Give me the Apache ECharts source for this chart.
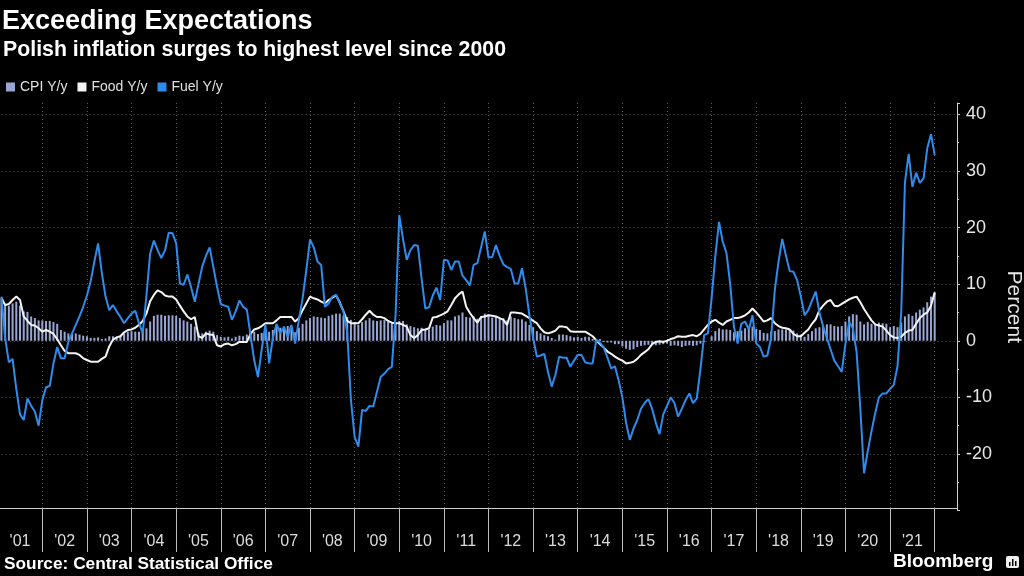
<!DOCTYPE html>
<html lang="en">
<head>
<meta charset="UTF-8">
<title>Exceeding Expectations</title>
<style>
    html, body {
        margin: 0;
        padding: 0;
        background: #000;
    }
    #chart {
        width: 1024px;
        height: 576px;
    }
</style>
</head>
<body>
<div id="chart"></div>
<script src="https://cdn.jsdelivr.net/npm/echarts@6/dist/echarts.min.js"></script>
<script>
    // monthly, Jan 2001 .. Dec 2021
    var cpi = [
        7.4, 6.6, 6.2, 6.6, 6.9, 6.2, 5.2, 5.1, 4.3, 4.0, 3.6, 3.6,
        3.5, 3.5, 3.3, 3.0, 1.9, 1.6, 1.3, 1.2, 1.3, 1.1, 0.9, 0.8,
        0.5, 0.5, 0.6, 0.3, 0.4, 0.8, 0.8, 0.7, 0.9, 1.3, 1.6, 1.7,
        1.6, 1.6, 1.7, 2.2, 3.4, 4.4, 4.6, 4.6, 4.4, 4.5, 4.5, 4.4,
        4.0, 3.6, 3.4, 3.0, 2.5, 1.4, 1.3, 1.6, 1.8, 1.6, 1.0, 0.7,
        0.6, 0.7, 0.4, 0.7, 0.9, 0.8, 1.1, 1.6, 1.6, 1.2, 1.4, 1.4,
        1.6, 1.9, 2.5, 2.3, 2.3, 2.6, 2.3, 1.5, 2.3, 3.0, 3.6, 4.0,
        4.3, 4.2, 4.1, 4.0, 4.4, 4.6, 4.8, 4.8, 4.5, 4.2, 3.7, 3.3,
        2.8, 3.3, 3.6, 4.0, 3.6, 3.5, 3.6, 3.7, 3.4, 3.1, 3.3, 3.5,
        3.5, 2.9, 2.6, 2.4, 2.2, 2.3, 2.0, 2.0, 2.5, 2.8, 2.7, 3.1,
        3.6, 3.6, 4.3, 4.5, 5.0, 4.2, 4.1, 4.3, 3.9, 4.3, 4.8, 4.6,
        4.1, 4.3, 3.9, 4.0, 3.6, 4.3, 4.0, 3.8, 3.8, 3.4, 2.8, 2.4,
        1.7, 1.3, 1.0, 0.8, 0.5, 0.2, 1.1, 1.1, 1.0, 0.8, 0.6, 0.7,
        0.5, 0.7, 0.7, 0.3, 0.2, 0.3, -0.2, -0.3, -0.3, -0.6, -0.6, -1.0,
        -1.4, -1.6, -1.5, -1.1, -0.9, -0.8, -0.7, -0.6, -0.8, -0.7, -0.6, -0.5,
        -0.9, -0.8, -0.9, -1.1, -0.9, -0.8, -0.9, -0.8, -0.5, -0.2, 0.0, 0.8,
        1.7, 2.2, 2.0, 2.0, 1.9, 1.5, 1.7, 1.8, 2.2, 2.1, 2.5, 2.1,
        1.9, 1.4, 1.3, 1.6, 1.7, 2.0, 2.0, 2.0, 1.9, 1.8, 1.3, 1.1,
        0.7, 1.2, 1.7, 2.2, 2.4, 2.6, 2.9, 2.9, 2.6, 2.5, 2.6, 3.4,
        4.3, 4.7, 4.6, 3.4, 2.9, 3.3, 3.0, 2.9, 3.2, 3.1, 3.0, 2.4,
        2.6, 2.4, 3.2, 4.3, 4.7, 4.4, 5.0, 5.5, 5.9, 6.8, 7.8, 8.6
    ];
    var food = [
        7.6, 6.3, 6.5, 7.2, 7.8, 7.2, 4.3, 3.5, 2.8, 2.7, 2.2, 1.6,
        1.9, 1.6, 1.2, 0.3, -0.8, -1.8, -2.2, -2.2, -2.2, -2.5, -3.1, -3.4,
        -3.7, -3.7, -3.7, -3.2, -2.8, -1.0, 0.2, 0.6, 0.8, 1.5, 1.9, 2.0,
        2.3, 2.8, 3.5, 4.8, 7.0, 8.1, 8.9, 8.6, 8.0, 7.8, 7.8, 7.3,
        6.2, 5.2, 4.3, 3.8, 4.2, 0.8, 0.5, 1.3, 1.1, 1.0, -0.8, -1.0,
        -0.6, -0.5, -0.8, -0.6, -0.2, -0.2, -0.2, 1.2, 2.0, 2.2, 2.6, 3.1,
        3.1, 3.1, 3.6, 4.2, 4.2, 4.2, 4.2, 3.4, 4.0, 5.4, 6.6, 7.8,
        7.5, 7.3, 6.9, 6.6, 7.2, 7.6, 8.0, 6.8, 5.2, 3.5, 3.1, 3.1,
        3.1, 3.8, 4.6, 5.3, 4.6, 4.2, 4.2, 4.0, 3.5, 3.2, 3.1, 3.1,
        2.8, 2.5, 1.0, 0.5, 1.0, 1.9, 2.0, 2.2, 4.1, 4.2, 4.5, 4.8,
        5.2, 6.3, 7.5, 8.2, 8.7, 6.0, 4.9, 4.0, 3.2, 4.2, 4.3, 4.5,
        4.4, 4.3, 4.0, 3.7, 2.8, 5.0, 5.0, 4.9, 4.8, 4.4, 4.0, 3.5,
        3.1, 2.2, 1.5, 1.3, 1.5, 1.8, 2.5, 2.5, 2.4, 1.7, 1.6, 1.6,
        1.6, 1.6, 1.2, 0.8, 0.1, -0.6, -1.2, -1.9, -2.3, -2.8, -3.2, -3.5,
        -4.0, -3.9, -3.7, -3.2, -2.5, -2.0, -1.5, -0.6, -0.2, -0.1, -0.2, 0.0,
        0.3, 0.5, 0.8, 0.7, 0.7, 0.9, 1.0, 0.8, 1.2, 2.0, 2.8, 3.4,
        3.7, 3.2, 2.8, 3.4, 3.7, 4.0, 4.0, 4.2, 4.5, 5.0, 5.7, 5.0,
        4.2, 3.4, 3.6, 4.0, 3.1, 2.6, 2.3, 2.2, 2.0, 1.2, 0.8, 0.8,
        1.4, 2.0, 3.0, 3.8, 5.4, 6.2, 6.9, 7.2, 6.2, 6.1, 6.5, 6.9,
        7.3, 7.6, 7.8, 6.8, 5.6, 4.6, 3.6, 2.9, 2.7, 2.5, 1.8, 1.0,
        0.6, 0.5, 0.7, 1.4, 1.8, 1.9, 3.0, 4.0, 4.6, 5.0, 6.2, 8.5
    ];
    var fuel = [
        7.8, 0.5, -3.8, -3.2, -8.5, -13.0, -14.0, -10.2, -11.5, -12.5, -15.0, -10.5,
        -8.2, -8.0, -4.0, -1.1, -3.1, -3.1, -0.2, 1.3, 2.8, 4.3, 6.0, 8.0,
        10.5, 14.0, 17.2, 12.0, 7.8, 5.4, 6.3, 5.2, 4.2, 3.1, 4.0, 4.8,
        5.3, 3.1, 1.3, 8.0, 15.4, 17.7, 16.0, 14.6, 16.0, 19.1, 19.0, 17.2,
        10.1, 9.9, 11.7, 9.5, 6.9, 10.0, 13.1, 15.0, 16.5, 13.0, 9.5, 6.5,
        6.2, 6.0, 3.7, 5.2, 7.1, 6.0, 5.5, 1.0, -3.5, -6.4, -1.5, 2.8,
        -4.0, 0.5, 3.0, 1.3, 2.5, 0.7, 2.8, -0.5, 3.7, 7.5, 12.5, 17.9,
        16.5, 14.0, 13.4, 6.0, 6.6, 7.8, 8.1, 6.6, 5.1, 1.5, -10.5, -17.0,
        -18.7, -12.2, -12.4, -11.5, -11.6, -9.0, -6.4, -5.8, -5.0, -4.6, 4.5, 22.2,
        18.0, 14.3, 16.0, 16.9, 16.8, 11.0, 5.7, 5.9, 8.0, 9.4, 7.2, 14.3,
        14.2, 12.5, 14.0, 14.0, 11.5, 10.7, 9.8, 13.4, 13.7, 16.5, 19.3, 14.7,
        14.8, 16.9, 15.0, 13.5, 13.0, 12.7, 10.1, 10.1, 12.8, 9.2, 4.5, 0.5,
        -2.8, -2.6, -2.3, -5.5, -8.1, -6.0, -2.8, -3.0, -3.0, -4.6, -3.5, -2.5,
        -2.5, -3.8, -4.0, -4.0, 0.2, -0.3, -1.2, -3.0, -4.9, -4.5, -7.0, -10.0,
        -14.5, -17.5, -15.5, -14.0, -12.0, -11.0, -10.3, -12.0, -14.5, -16.5, -13.0, -11.5,
        -10.0, -11.0, -13.4, -12.0, -10.5, -9.3, -11.0, -10.2, -5.0, 1.0, 1.3, 7.5,
        15.0, 21.0, 17.5, 15.5, 10.0, 2.5, -0.5, 3.0, 3.4, 2.0, 4.5, -0.5,
        -1.1, -2.8, -2.6, 0.5, 9.0, 14.0, 18.0, 15.0, 12.3, 12.2, 10.7, 7.8,
        4.5, 5.4, 7.1, 8.7, 5.0, 2.5, 0.5, -1.5, -3.5, -4.5, -5.5, -0.5,
        3.3, 2.2, -2.0, -12.0, -23.4, -19.5, -16.0, -12.8, -10.0, -9.3, -9.3, -8.5,
        -7.8, -4.5, 5.0, 28.0, 33.0, 27.2, 29.7, 27.9, 28.7, 34.0, 36.5, 32.8
    ];
    var seriesNames = ['CPI Y/y', 'Food Y/y', 'Fuel Y/y'];
    var firstYear = 2001;
    var lastYear = 2021;

    // month slots: Dec 2000 (year-start tick), Jan 2001..Dec 2021, then a little room on the right
    var months = ['2000-12'];
    for (var y = firstYear; y <= lastYear + 1; y++) {
        for (var m = 1; m <= 12; m++) {
            if (y > lastYear && m > 6) break;
            months.push(y + '-' + (m < 10 ? '0' + m : m));
        }
    }
    var lastIndex = (lastYear - firstYear + 1) * 12;

    function pad(arr) {
        return [null].concat(arr);
    }
    function isYearEdge(index) {
        return index > 0 && index <= lastIndex && index % 12 === 0;
    }
    function isYearMiddle(index) {
        return index < lastIndex && index % 12 === 6;
    }

    var font = '"Liberation Sans", Arial, sans-serif';
    var chart = echarts.init(document.getElementById('chart'));
    var option = {
        backgroundColor: '#000',
        animation: false,
        title: [
            {
                text: 'Exceeding Expectations',
                left: 2, top: 8, padding: 0,
                textStyle: {color: '#fff', fontSize: 27, fontWeight: 'bold', fontFamily: font}
            },
            {
                text: 'Polish inflation surges to highest level since 2000',
                left: 3, top: 40, padding: 0,
                textStyle: {color: '#fff', fontSize: 21.3, fontWeight: 'bold', fontFamily: font}
            },
            {
                text: 'Source: Central Statistical Office',
                left: 4, top: 556, padding: 0,
                textStyle: {color: '#fff', fontSize: 17.3, fontWeight: 'bold', fontFamily: font}
            }
        ],
        legend: {
            data: seriesNames,
            left: 6, top: 80, padding: 0,
            icon: 'rect',
            itemWidth: 9, itemHeight: 9, itemGap: 10,
            textStyle: {color: '#e0e0e0', fontSize: 14, fontFamily: font}
        },
        grid: {
            left: -2.3, right: 67, top: 103, bottom: 65.4,
            outerBoundsMode: 'none'
        },
        xAxis: {
            type: 'category',
            data: months,
            boundaryGap: false,
            offset: -2.6,
            axisLine: {show: true, onZero: false, lineStyle: {color: '#cfcfcf', width: 1}},
            axisTick: {show: true, length: 44, interval: isYearEdge, lineStyle: {color: '#bdbdbd'}},
            axisLabel: {
                interval: isYearMiddle,
                formatter: function (v) { return "'" + v.slice(2, 4); },
                color: '#dcdcdc', fontSize: 16, margin: 26, fontFamily: font
            },
            splitLine: {show: true, interval: isYearEdge, lineStyle: {color: '#5a5a5a', type: [1, 3]}}
        },
        yAxis: {
            type: 'value',
            position: 'right',
            min: -30, max: 42, interval: 10,
            name: 'Percent',
            nameLocation: 'middle',
            nameRotate: -90,
            nameGap: 41,
            nameTextStyle: {color: '#e6e6e6', fontSize: 21, fontFamily: font},
            axisLine: {show: true, lineStyle: {color: '#cfcfcf'}},
            axisTick: {show: true, length: 3, lineStyle: {color: '#cfcfcf'}},
            minorTick: {show: true, splitNumber: 2, length: 2, lineStyle: {color: '#cfcfcf'}},
            axisLabel: {
                color: '#e6e6e6', fontSize: 18, margin: 9, fontFamily: font,
                showMinLabel: false, showMaxLabel: false
            },
            splitLine: {
                show: true, showMinLine: false, showMaxLine: false,
                lineStyle: {color: '#5a5a5a', type: [1, 3]}
            }
        },
        series: [
            {
                name: seriesNames[0],
                type: 'bar',
                data: pad(cpi),
                barWidth: 2,
                itemStyle: {color: '#98a6d4'}
            },
            {
                name: seriesNames[1],
                type: 'line',
                data: pad(food),
                showSymbol: false,
                lineStyle: {color: '#f4f4f4', width: 2},
                itemStyle: {color: '#f4f4f4'}
            },
            {
                name: seriesNames[2],
                type: 'line',
                data: pad(fuel),
                showSymbol: false,
                lineStyle: {color: '#2d8cec', width: 2},
                itemStyle: {color: '#2d8cec'}
            }
        ],
        graphic: [
            {
                type: 'text', x: 893, y: 562,
                style: {text: 'Bloomberg', fill: '#fff', font: 'bold 19px ' + font, verticalAlign: 'middle'}
            },
            {type: 'rect', x: 1006, y: 556, shape: {width: 13, height: 12, r: 2}, style: {fill: '#f0f0f0'}},
            {type: 'rect', x: 1009, y: 562, shape: {width: 1.5, height: 4}, style: {fill: '#000'}},
            {type: 'rect', x: 1012, y: 559, shape: {width: 1.5, height: 7}, style: {fill: '#000'}},
            {type: 'rect', x: 1015, y: 561, shape: {width: 1.5, height: 5}, style: {fill: '#000'}}
        ]
    };
    chart.setOption(option);
</script>
</body>
</html>
